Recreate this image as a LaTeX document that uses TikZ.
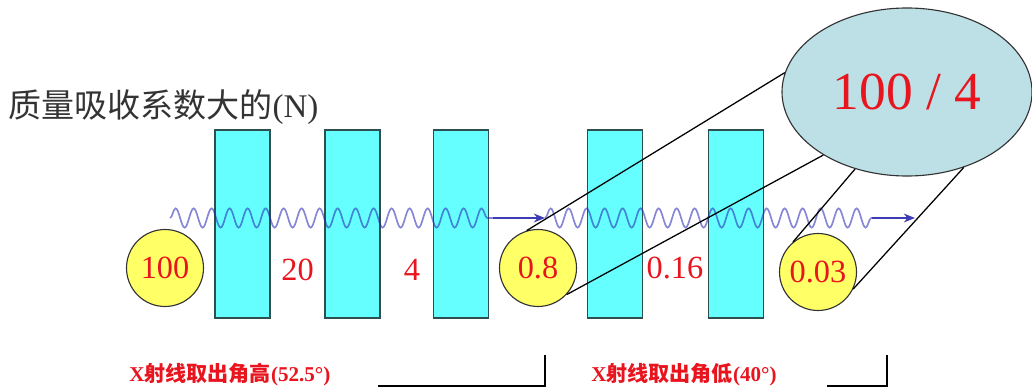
\documentclass[tikz,border=0pt]{standalone}
\usepackage{fontspec}
\setmainfont{Liberation Serif}
\newfontfamily\cjk{Noto Sans CJK SC}
\usetikzlibrary{positioning, arrows.meta, shapes.geometric, decorations.pathmorphing}
\definecolor{bCyan}{HTML}{66FFFF}
\definecolor{bEdge}{HTML}{2F4F4F}
\definecolor{cYellow}{HTML}{FFFF66}
\definecolor{eBlue}{HTML}{BCE0E6}
\definecolor{tRed}{HTML}{E8141E}
\definecolor{wBlue}{HTML}{2424B4}
\definecolor{aBlue}{HTML}{3C3CB4}
\definecolor{tGray}{HTML}{333333}

\begin{document}
\begin{tikzpicture}[x=0.25mm, y=-0.25mm,
  every node/.style={font=\rmfamily},
  bar/.style={draw=bEdge, fill=bCyan, line width=0.8pt, minimum width=13.75mm,
              minimum height=47mm, inner sep=0pt},
  dose/.style={circle, draw=black!80, fill=cYellow, line width=0.8pt,
               minimum size=19.25mm, inner sep=0pt, text=tRed,
               font=\fontsize{23}{23}\selectfont},
  num/.style={text=tRed, font=\fontsize{23}{23}\selectfont, inner sep=0pt},
  wave/.style={draw=wBlue, draw opacity=0.55, line width=1.2pt, decorate,
               decoration={snake, segment length=4.5mm, amplitude=2.4mm}},
  beam/.style={draw=aBlue, line width=1pt, -{Stealth[length=2.8mm, width=2.2mm]}},
  tline/.style={draw=black, line width=0.9pt},
  note/.style={text=tRed, font=\fontsize{15}{15}\selectfont\bfseries,
               anchor=west, inner sep=0pt},
  bracket/.style={draw=black, line width=2pt},
]
  \useasboundingbox (0,0) rectangle (1032,389);

  % Title
  \node[anchor=west, text=tGray, font=\fontsize{23.5}{23.5}\selectfont, inner sep=0pt]
    (title) at (8,107) {{\cjk 质量吸收系数大的}(N)};

  % Absorbing layers
  \node[bar] (b1) at (242.5,224) {};
  \node[bar] (b2) at (352.5,224) {};
  \node[bar] (b3) at (461,224) {};
  \node[bar] (b4) at (615,224) {};
  \node[bar] (b5) at (736,224) {};

  % X-ray beam
  \coordinate (w1a) at (170,218);
  \coordinate (w1b) at (493,218);
  \coordinate (w1c) at (545,218);
  \coordinate (w2a) at (545,218);
  \coordinate (w2b) at (872,218);
  \coordinate (w2c) at (915,218);
  \draw[wave] (w1a) -- (w1b);
  \draw[beam] (w1b) -- (w1c);
  \draw[wave] (w2a) -- (w2b);
  \draw[beam] (w2b) -- (w2c);

  % Intensities
  \node[dose] (c100) at (165,268) {100};
  \node[num] (n20) at (297.5,270) {20};
  \node[num] (n4) at (412,270) {4};
  \node[dose] (c08) at (538,268) {0.8};
  \node[num] (n016) at (675,268) {0.16};
  \node[dose] (c003) at (818,272) {0.03};

  % Ratio
  \node[ellipse, draw=black!80, fill=eBlue, line width=0.8pt, minimum width=62.5mm,
        minimum height=42mm, inner sep=0pt, text=tRed,
        font=\fontsize{38}{38}\selectfont] (ell) at (907,92) {100 / 4};

  \draw[tline] (c08.107) -- (ell.171);
  \draw[tline] (c08.-43) -- (ell.217);
  \draw[tline] (c003.130) -- (ell.236);
  \draw[tline] (c003.-26) -- (ell.307);

  % Take-off angles
  \node[note] (hi) at (129,375) {X{\cjk 射线取出角高}(52.5°)};
  \node[note] (lo) at (591,375) {X{\cjk 射线取出角低}(40°)};

  \coordinate (k1a) at (378,386);
  \coordinate (k1b) at (545,386);
  \coordinate (k1c) at (545,355);
  \coordinate (k2a) at (827,386);
  \coordinate (k2b) at (887,386);
  \coordinate (k2c) at (887,355);
  \draw[bracket] (k1a) -- (k1b) -- (k1c);
  \draw[bracket] (k2a) -- (k2b) -- (k2c);
\end{tikzpicture}
\end{document}
